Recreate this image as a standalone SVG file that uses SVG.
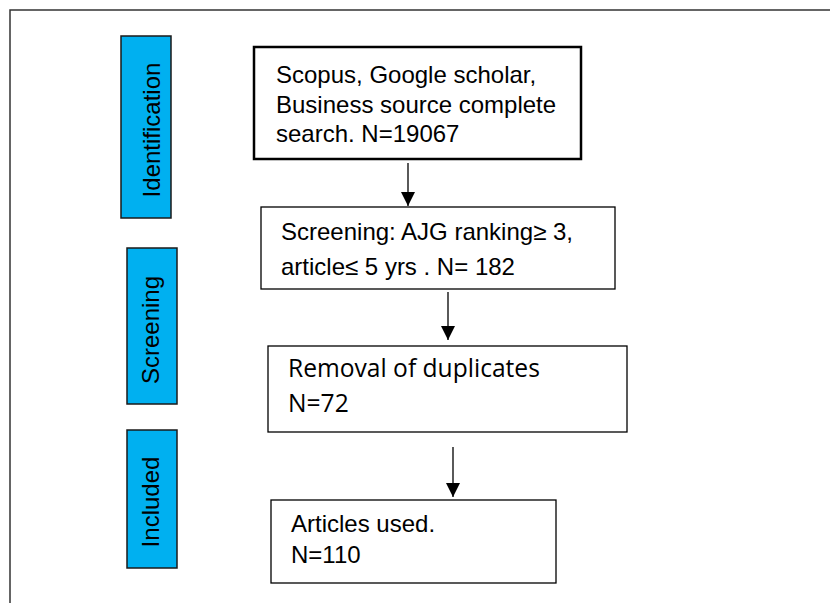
<svg xmlns="http://www.w3.org/2000/svg" width="830" height="603" viewBox="0 0 830 603">
  <defs>
    <style>
      .frame { fill: none; stroke: #333; stroke-width: 1.5; }
      .stage { fill: #00B0F0; stroke: #1a1a1a; stroke-width: 1.5; }
      .box { fill: #fff; stroke: #000; stroke-width: 1.3; }
      .box-bold { fill: #fff; stroke: #000; stroke-width: 2.5; }
      .txt { font-family: "Liberation Sans", Arial, sans-serif; font-size: 24px; fill: #000; }
      .txt-c { font-family: "Open Sans", "Noto Sans", sans-serif; font-size: 24.6px; fill: #000; }
      .vlabel { font-family: "Liberation Sans", Arial, sans-serif; font-size: 24px; fill: #000; text-anchor: middle; }
      .conn { stroke: #000; stroke-width: 1.3; fill: none; marker-end: url(#arrow); }
    </style>
    <marker id="arrow" viewBox="0 0 14 16" refX="14" refY="7" markerWidth="14" markerHeight="16" markerUnits="userSpaceOnUse" orient="auto">
      <path d="M0,0 L14,7 L0,14 Z" fill="#000"/>
    </marker>
  </defs>

  <rect width="830" height="603" fill="#fff"/>

  <!-- outer frame, continues past the right and bottom edges -->
  <rect class="frame" x="10" y="10" width="840" height="620"/>

  <!-- stage labels -->
  <g id="stage-identification">
    <rect class="stage" x="121" y="36" width="50" height="182"/>
    <text class="vlabel" transform="translate(160,130) rotate(-90)">Identification</text>
  </g>
  <g id="stage-screening">
    <rect class="stage" x="127" y="248" width="50" height="156"/>
    <text class="vlabel" transform="translate(159,330) rotate(-90)">Screening</text>
  </g>
  <g id="stage-included">
    <rect class="stage" x="127" y="430" width="50" height="138"/>
    <text class="vlabel" transform="translate(159,502) rotate(-90)">Included</text>
  </g>

  <!-- flow boxes -->
  <g id="search">
    <rect class="box-bold" x="254" y="47" width="327" height="112"/>
    <text class="txt" x="276" y="83">Scopus, Google scholar,</text>
    <text class="txt" x="276" y="113">Business source complete</text>
    <text class="txt" x="276" y="142">search. N=19067</text>
  </g>
  <g id="screening">
    <rect class="box" x="261" y="207" width="354" height="82"/>
    <text class="txt" x="281" y="240">Screening: AJG ranking≥ 3,</text>
    <text class="txt" x="281" y="275">article≤ 5 yrs . N= 182</text>
  </g>
  <g id="duplicates">
    <rect class="box" x="268" y="346" width="359" height="86"/>
    <text class="txt-c" x="288" y="377">Removal of duplicates</text>
    <text class="txt-c" x="288" y="412">N=72</text>
  </g>
  <g id="included">
    <rect class="box" x="271" y="500" width="285" height="83"/>
    <text class="txt" x="291" y="532">Articles used.</text>
    <text class="txt" x="291" y="563">N=110</text>
  </g>

  <!-- connectors -->
  <g id="connectors">
    <line class="conn" x1="408" y1="163" x2="408" y2="206"/>
    <line class="conn" x1="448" y1="292" x2="448" y2="340"/>
    <line class="conn" x1="453" y1="447" x2="453" y2="497"/>
  </g>
</svg>
